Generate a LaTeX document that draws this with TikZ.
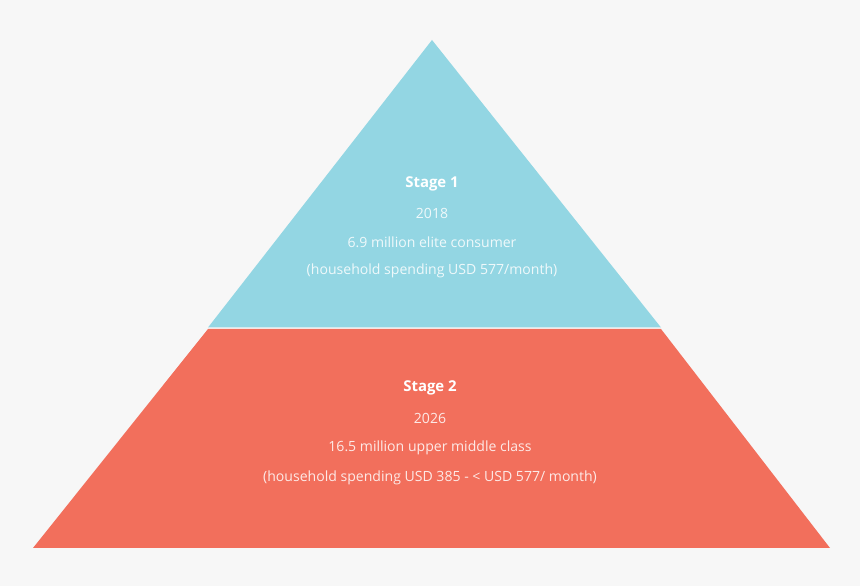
\documentclass[tikz,border=0pt]{standalone}
\usepackage{fontspec}
\setmainfont{Open Sans}
\usepackage{xcolor}
\usetikzlibrary{positioning}
\definecolor{pagebg}{RGB}{247, 247, 247}
\definecolor{topblue}{RGB}{147, 214, 227}
\definecolor{lowred}{RGB}{242, 111, 92}

\tikzset{
    stagetitle/.style={font=\fontsize{8.5}{10}\selectfont\bfseries, text=white},
    stageline/.style={font=\fontsize{8}{10}\selectfont, text=white, text opacity=0.85}
}

\begin{document}
\begin{tikzpicture}
    % Background
    \fill[pagebg] (0, 0) rectangle (17.2, 11.72);
    \useasboundingbox (0, 0) rectangle (17.2, 11.72);

    % Pyramid layers
    \fill[lowred] (0.66, 0.76) -- (16.6, 0.76) -- (13.22, 5.14) -- (4.16, 5.14) -- cycle;
    \fill[topblue] (4.16, 5.17) -- (13.22, 5.17) -- (8.64, 10.92) -- cycle;

    % Stage 1 text
    \node[stagetitle] (s1title) at (8.64, 8.04) {Stage 1};
    \node[stageline] (s1year) at (8.64, 7.46) {2018};
    \node[stageline] (s1count) at (8.64, 6.88) {6.9 million elite consumer};
    \node[stageline] (s1spend) at (8.64, 6.30) {(household spending USD 577/month)};

    % Stage 2 text
    \node[stagetitle] (s2title) at (8.6, 3.96) {Stage 2};
    \node[stageline] (s2year) at (8.6, 3.36) {2026};
    \node[stageline] (s2count) at (8.6, 2.76) {16.5 million upper middle class};
    \node[stageline] (s2spend) at (8.6, 2.16) {(household spending USD 385 - < USD 577/ month)};
\end{tikzpicture}
\end{document}
